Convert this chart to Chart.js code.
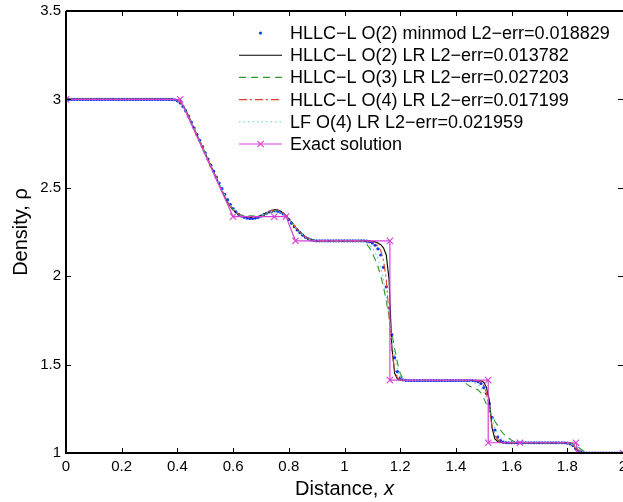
<!DOCTYPE html>
<html>
<head>
<meta charset="utf-8">
<script src="https://cdn.jsdelivr.net/npm/chart.js@4"></script>
<style>
html,body{margin:0;padding:0;background:#fff;}
canvas{display:block;}
</style>
</head>
<body>
<canvas id="c" width="623" height="502"></canvas>
<script>
// ---------------- DATA ----------------
const seriesLabels = [
  "HLLC\u2212L O(2) minmod L2\u2212err=0.018829",
  "HLLC\u2212L O(2) LR L2\u2212err=0.013782",
  "HLLC\u2212L O(3) LR L2\u2212err=0.027203",
  "HLLC\u2212L O(4) LR L2\u2212err=0.017199",
  "LF O(4) LR L2\u2212err=0.021959",
  "Exact solution"
];
const xTickVals = [0,0.2,0.4,0.6,0.8,1,1.2,1.4,1.6,1.8,2];
const xTickLabels = ["0","0.2","0.4","0.6","0.8","1","1.2","1.4","1.6","1.8","2"];
const yTickVals = [1,1.5,2,2.5,3,3.5];
const yTickLabels = ["1","1.5","2","2.5","3","3.5"];

const xGrid = [
0,0.01,0.02,0.03,0.04,0.05,0.06,0.07,0.08,0.09,
0.1,0.11,0.12,0.13,0.14,0.15,0.16,0.17,0.18,0.19,
0.2,0.21,0.22,0.23,0.24,0.25,0.26,0.27,0.28,0.29,
0.3,0.31,0.32,0.33,0.34,0.35,0.36,0.37,0.38,0.39,
0.4,0.41,0.42,0.43,0.44,0.45,0.46,0.47,0.48,0.49,
0.5,0.51,0.52,0.53,0.54,0.55,0.56,0.57,0.58,0.59,
0.6,0.61,0.62,0.63,0.64,0.65,0.66,0.67,0.68,0.69,
0.7,0.71,0.72,0.73,0.74,0.75,0.76,0.77,0.78,0.79,
0.8,0.81,0.82,0.83,0.84,0.85,0.86,0.87,0.88,0.89,
0.9,0.91,0.92,0.93,0.94,0.95,0.96,0.97,0.98,0.99,
1,1.01,1.02,1.03,1.04,1.05,1.06,1.07,1.08,1.09,
1.1,1.11,1.12,1.13,1.14,1.15,1.16,1.17,1.18,1.19,
1.2,1.21,1.22,1.23,1.24,1.25,1.26,1.27,1.28,1.29,
1.3,1.31,1.32,1.33,1.34,1.35,1.36,1.37,1.38,1.39,
1.4,1.41,1.42,1.43,1.44,1.45,1.46,1.47,1.48,1.49,
1.5,1.51,1.52,1.53,1.54,1.55,1.56,1.57,1.58,1.59,
1.6,1.61,1.62,1.63,1.64,1.65,1.66,1.67,1.68,1.69,
1.7,1.71,1.72,1.73,1.74,1.75,1.76,1.77,1.78,1.79,
1.8,1.81,1.82,1.83,1.84,1.85,1.86,1.87,1.88,1.89,
1.9,1.91,1.92,1.93,1.94,1.95,1.96,1.97,1.98,1.99,
2];

const minmodO2 = [
3,3,3,3,3,3,3,3,3,3,
3,3,3,3,3,3,3,3,3,3,
3,3,3,3,3,3,3,3,3,3,
3,3,3,3,3,3,3,3,3,2.998,
2.992,2.98,2.96,2.935,2.905,2.872,2.838,2.803,2.768,2.733,
2.698,2.663,2.628,2.594,2.56,2.527,2.495,2.463,2.433,2.405,
2.382,2.364,2.35,2.34,2.333,2.329,2.327,2.327,2.329,2.333,
2.34,2.348,2.356,2.363,2.368,2.37,2.368,2.362,2.352,2.338,
2.32,2.3,2.28,2.262,2.246,2.232,2.22,2.211,2.205,2.202,
2.2,2.2,2.2,2.2,2.2,2.2,2.2,2.2,2.2,2.2,
2.2,2.2,2.2,2.2,2.2,2.2,2.2,2.2,2.198,2.195,
2.188,2.175,2.155,2.12,2.05,1.94,1.82,1.67,1.54,1.46,
1.425,1.414,1.411,1.41,1.41,1.41,1.41,1.41,1.41,1.41,
1.41,1.41,1.41,1.41,1.41,1.41,1.41,1.41,1.41,1.41,
1.41,1.41,1.41,1.41,1.41,1.41,1.41,1.408,1.403,1.393,
1.37,1.335,1.28,1.2,1.13,1.09,1.07,1.062,1.059,1.058,
1.058,1.058,1.058,1.058,1.058,1.058,1.058,1.058,1.058,1.058,
1.058,1.058,1.058,1.058,1.058,1.058,1.058,1.058,1.058,1.058,
1.056,1.052,1.042,1.026,1.012,1.004,1.001,1,1,1,
1,1,1,1,1,1,1,1,1,1,
1];

const lrO2 = [
3,3,3,3,3,3,3,3,3,3,
3,3,3,3,3,3,3,3,3,3,
3,3,3,3,3,3,3,3,3,3,
3,3,3,3,3,3,3,3,3,2.999,
2.995,2.985,2.965,2.94,2.905,2.87,2.835,2.8,2.765,2.73,
2.695,2.66,2.625,2.59,2.555,2.52,2.485,2.45,2.42,2.395,
2.375,2.36,2.35,2.343,2.338,2.335,2.333,2.333,2.335,2.338,
2.343,2.35,2.358,2.366,2.372,2.375,2.374,2.368,2.357,2.342,
2.325,2.305,2.285,2.265,2.25,2.235,2.222,2.212,2.206,2.203,
2.201,2.2,2.2,2.2,2.2,2.2,2.2,2.2,2.2,2.2,
2.2,2.2,2.2,2.2,2.2,2.2,2.2,2.2,2.2,2.199,
2.197,2.194,2.188,2.178,2.16,2.12,1.98,1.6,1.45,1.418,
1.412,1.41,1.41,1.41,1.41,1.41,1.41,1.41,1.41,1.41,
1.41,1.41,1.41,1.41,1.41,1.41,1.41,1.41,1.41,1.41,
1.41,1.41,1.41,1.41,1.41,1.41,1.41,1.41,1.41,1.408,
1.4,1.37,1.3,1.14,1.08,1.065,1.06,1.058,1.058,1.058,
1.058,1.058,1.058,1.058,1.058,1.058,1.058,1.058,1.058,1.058,
1.058,1.058,1.058,1.058,1.058,1.058,1.058,1.058,1.058,1.058,
1.058,1.056,1.048,1.025,1.006,1.001,1,1,1,1,
1,1,1,1,1,1,1,1,1,1,
1];

const lrO3 = [
3,3,3,3,3,3,3,3,3,3,
3,3,3,3,3,3,3,3,3,3,
3,3,3,3,3,3,3,3,3,3,
3,3,3,3,3,3,3,3,3,2.999,
2.994,2.983,2.963,2.938,2.905,2.87,2.835,2.8,2.765,2.73,
2.695,2.66,2.625,2.59,2.555,2.52,2.486,2.452,2.422,2.397,
2.377,2.362,2.352,2.346,2.343,2.342,2.342,2.341,2.339,2.338,
2.34,2.346,2.354,2.362,2.368,2.371,2.37,2.365,2.355,2.341,
2.324,2.305,2.286,2.267,2.25,2.235,2.222,2.212,2.206,2.203,
2.201,2.2,2.2,2.2,2.2,2.2,2.2,2.2,2.2,2.2,
2.2,2.2,2.2,2.2,2.2,2.2,2.198,2.193,2.18,2.16,
2.13,2.095,2.055,2.005,1.94,1.86,1.77,1.68,1.59,1.51,
1.45,1.42,1.412,1.41,1.41,1.41,1.41,1.41,1.41,1.41,
1.41,1.41,1.41,1.41,1.41,1.41,1.41,1.41,1.41,1.41,
1.41,1.41,1.408,1.4,1.388,1.378,1.37,1.364,1.356,1.34,
1.31,1.275,1.24,1.21,1.18,1.155,1.13,1.11,1.095,1.083,
1.072,1.065,1.061,1.059,1.058,1.058,1.058,1.058,1.058,1.058,
1.058,1.058,1.058,1.058,1.058,1.058,1.058,1.058,1.058,1.058,
1.058,1.056,1.052,1.045,1.033,1.02,1.01,1.004,1.001,1,
1,1,1,1,1,1,1,1,1,1,
1];

const lrO4 = [
3,3,3,3,3,3,3,3,3,3,
3,3,3,3,3,3,3,3,3,3,
3,3,3,3,3,3,3,3,3,3,
3,3,3,3,3,3,3,3,3,2.999,
2.995,2.984,2.964,2.939,2.905,2.87,2.835,2.8,2.765,2.73,
2.695,2.66,2.625,2.59,2.555,2.52,2.486,2.451,2.421,2.396,
2.376,2.361,2.351,2.343,2.338,2.335,2.333,2.333,2.335,2.338,
2.343,2.35,2.358,2.366,2.372,2.375,2.374,2.368,2.357,2.342,
2.325,2.305,2.285,2.265,2.25,2.235,2.222,2.212,2.206,2.203,
2.201,2.2,2.2,2.2,2.2,2.2,2.2,2.2,2.2,2.2,
2.2,2.2,2.2,2.2,2.2,2.2,2.2,2.2,2.2,2.198,
2.195,2.188,2.172,2.145,2.09,1.98,1.78,1.58,1.47,1.425,
1.413,1.41,1.41,1.41,1.41,1.41,1.41,1.41,1.41,1.41,
1.41,1.41,1.41,1.41,1.41,1.41,1.41,1.41,1.41,1.41,
1.41,1.41,1.41,1.41,1.41,1.41,1.41,1.41,1.408,1.4,
1.38,1.34,1.24,1.15,1.1,1.075,1.064,1.06,1.058,1.058,
1.058,1.058,1.058,1.058,1.058,1.058,1.058,1.058,1.058,1.058,
1.058,1.058,1.058,1.058,1.058,1.058,1.058,1.058,1.058,1.058,
1.058,1.055,1.045,1.027,1.01,1.003,1,1,1,1,
1,1,1,1,1,1,1,1,1,1,
1];

const lfO4 = [
3,3,3,3,3,3,3,3,3,3,
3,3,3,3,3,3,3,3,3,3,
3,3,3,3,3,3,3,3,3,3,
3,3,3,3,3,3,3,3,3,2.998,
2.991,2.978,2.958,2.933,2.903,2.87,2.836,2.801,2.766,2.731,
2.696,2.661,2.626,2.592,2.558,2.525,2.492,2.46,2.43,2.403,
2.381,2.364,2.352,2.344,2.339,2.336,2.335,2.335,2.336,2.339,
2.344,2.35,2.357,2.363,2.367,2.369,2.367,2.362,2.352,2.338,
2.322,2.303,2.284,2.265,2.249,2.234,2.222,2.212,2.206,2.203,
2.201,2.2,2.2,2.2,2.2,2.2,2.2,2.2,2.2,2.2,
2.2,2.2,2.2,2.2,2.2,2.2,2.198,2.194,2.187,2.176,
2.16,2.135,2.1,2.05,1.98,1.88,1.77,1.65,1.55,1.47,
1.43,1.415,1.411,1.41,1.41,1.41,1.41,1.41,1.41,1.41,
1.41,1.41,1.41,1.41,1.41,1.41,1.41,1.41,1.41,1.41,
1.41,1.41,1.41,1.41,1.41,1.407,1.402,1.395,1.385,1.37,
1.345,1.31,1.26,1.2,1.14,1.105,1.083,1.07,1.063,1.06,
1.059,1.058,1.058,1.058,1.058,1.058,1.058,1.058,1.058,1.058,
1.058,1.058,1.058,1.058,1.058,1.058,1.058,1.058,1.058,1.058,
1.057,1.054,1.046,1.032,1.018,1.008,1.003,1.001,1,1,
1,1,1,1,1,1,1,1,1,1,
1];

const exactX = [0,0.41,0.6,0.748,0.79,0.824,1.163,1.163,1.516,1.516,1.63,1.831,1.84,2];
const exactY = [3,3,2.337,2.337,2.337,2.2,2.2,1.412,1.412,1.058,1.058,1.058,1.0,1.0];

// ---------------- BUILD ----------------
const pts = (xs, ys) => xs.map((x, i) => ({x: x, y: ys[i]}));
const FONT = '"Liberation Sans", Arial, Helvetica, sans-serif';
const PLOT_LEFT = 66, PLOT_RIGHT = 623, PLOT_TOP = 11, PLOT_BOTTOM = 453;

const styles = [
  {kind:'dots', color:'#1236ff'},
  {kind:'line', color:'#000000', dash:[]},
  {kind:'line', color:'#2b9a2b', dash:[7,5]},
  {kind:'line', color:'#e5402a', dash:[8,3,2,3]},
  {kind:'line', color:'#62d2d2', dash:[1.5,3]},
  {kind:'exact', color:'#d642d6'}
];

const datasets = [
  {label: seriesLabels[0], data: pts(xGrid, minmodO2), showLine:false, pointRadius:1.6, pointHoverRadius:1.6,
   pointBackgroundColor: styles[0].color, pointBorderWidth:0, order:5},
  {label: seriesLabels[1], data: pts(xGrid, lrO2), showLine:true, borderColor: styles[1].color, borderWidth:1.1,
   pointRadius:0, order:4},
  {label: seriesLabels[2], data: pts(xGrid, lrO3), showLine:true, borderColor: styles[2].color, borderWidth:1.1,
   borderDash: styles[2].dash, pointRadius:0, order:3},
  {label: seriesLabels[3], data: pts(xGrid, lrO4), showLine:true, borderColor: styles[3].color, borderWidth:1.1,
   borderDash: styles[3].dash, pointRadius:0, order:2},
  {label: seriesLabels[4], data: pts(xGrid, lfO4), showLine:true, borderColor: styles[4].color, borderWidth:1.1,
   borderDash: styles[4].dash, pointRadius:0, order:1},
  {label: seriesLabels[5], data: pts(exactX, exactY), showLine:true, borderColor: styles[5].color, borderWidth:1.2,
   pointStyle:'crossRot', pointRadius:4.5, pointBorderColor: styles[5].color, pointBorderWidth:1.1,
   pointBackgroundColor: styles[5].color, order:0}
];

function drawCross(ctx, x, y, r, color) {
  ctx.save();
  ctx.strokeStyle = color; ctx.lineWidth = 1.1;
  ctx.beginPath();
  ctx.moveTo(x - r, y - r); ctx.lineTo(x + r, y + r);
  ctx.moveTo(x - r, y + r); ctx.lineTo(x + r, y - r);
  ctx.stroke();
  ctx.restore();
}

const matlabPlugin = {
  id: 'matlabBox',
  afterLayout(chart) {
    // fix the plot box to the reference geometry (clipped at the right edge)
    const xs = chart.scales.x, ys = chart.scales.y, a = chart.chartArea;
    xs.left = PLOT_LEFT; xs.right = PLOT_RIGHT; xs.width = PLOT_RIGHT - PLOT_LEFT;
    xs.top = PLOT_BOTTOM; xs.bottom = PLOT_BOTTOM + 49; xs.height = 49;
    xs.configure();
    ys.top = PLOT_TOP; ys.bottom = PLOT_BOTTOM; ys.height = PLOT_BOTTOM - PLOT_TOP;
    ys.left = 0; ys.right = PLOT_LEFT; ys.width = PLOT_LEFT;
    ys.configure();
    a.left = PLOT_LEFT; a.right = PLOT_RIGHT; a.top = PLOT_TOP; a.bottom = PLOT_BOTTOM;
    a.width = PLOT_RIGHT - PLOT_LEFT; a.height = PLOT_BOTTOM - PLOT_TOP;
  },
  afterDraw(chart) {
    const ctx = chart.ctx, a = chart.chartArea, xs = chart.scales.x, ys = chart.scales.y;
    ctx.save();
    // inward ticks
    ctx.strokeStyle = '#000';
    ctx.lineWidth = 1;
    ctx.beginPath();
    xTickVals.forEach(v => {
      const px = Math.round(xs.getPixelForValue(v)) + 0.5;
      ctx.moveTo(px, a.bottom); ctx.lineTo(px, a.bottom - 5);
      ctx.moveTo(px, a.top); ctx.lineTo(px, a.top + 5);
    });
    yTickVals.forEach(v => {
      const py = Math.round(ys.getPixelForValue(v)) + 0.5;
      ctx.moveTo(a.left, py); ctx.lineTo(a.left + 5, py);
      ctx.moveTo(a.right, py); ctx.lineTo(a.right - 5, py);
    });
    ctx.stroke();
    // box
    ctx.lineWidth = 2;
    ctx.beginPath();
    ctx.moveTo(a.left, a.top); ctx.lineTo(a.left, a.bottom); ctx.lineTo(a.right + 2, a.bottom);
    ctx.moveTo(a.left, a.top); ctx.lineTo(a.right + 2, a.top);
    ctx.stroke();

    // axis titles
    ctx.fillStyle = '#000';
    ctx.textBaseline = 'middle';
    const t1 = 'Distance, ', t2 = 'x';
    ctx.font = '20px ' + FONT;
    const w1 = ctx.measureText(t1).width;
    ctx.font = 'italic 20px ' + FONT;
    const w2 = ctx.measureText(t2).width;
    const cx = (a.left + a.right) / 2;
    let sx = cx - (w1 + w2) / 2;
    ctx.textAlign = 'left';
    ctx.font = '20px ' + FONT;
    ctx.fillText(t1, sx, 489);
    ctx.font = 'italic 20px ' + FONT;
    ctx.fillText(t2, sx + w1, 489);

    ctx.save();
    ctx.translate(21, (a.top + a.bottom) / 2);
    ctx.rotate(-Math.PI / 2);
    ctx.textAlign = 'center';
    ctx.font = '20px ' + FONT;
    ctx.fillText('Density, \u03C1', 0, 0);
    ctx.restore();

    // legend
    const lx0 = 239, lx1 = 282, tx = 290, ry0 = 33, rstep = 22.2;
    ctx.font = '18px ' + FONT;
    ctx.textAlign = 'left';
    ctx.textBaseline = 'middle';
    seriesLabels.forEach((lab, i) => {
      const yy = ry0 + i * rstep;
      const st = styles[i];
      const mid = (lx0 + lx1) / 2;
      if (st.kind === 'dots') {
        ctx.fillStyle = st.color;
        ctx.beginPath(); ctx.arc(mid, yy, 1.6, 0, Math.PI * 2); ctx.fill();
      } else {
        ctx.strokeStyle = st.color;
        ctx.lineWidth = 1.1;
        ctx.setLineDash(st.dash || []);
        ctx.beginPath(); ctx.moveTo(lx0, yy); ctx.lineTo(lx1, yy); ctx.stroke();
        ctx.setLineDash([]);
        if (st.kind === 'exact') drawCross(ctx, mid, yy, 3.2, st.color);
      }
      ctx.fillStyle = '#000';
      ctx.fillText(lab, tx, yy + 1);
    });
    ctx.restore();
  }
};

new Chart(document.getElementById('c'), {
  type: 'scatter',
  data: { datasets: datasets },
  options: {
    responsive: false,
    animation: false,
    events: [],
    layout: { padding: { top: 11, right: 0, left: 0, bottom: 0 } },
    plugins: { legend: { display: false }, tooltip: { enabled: false } },
    scales: {
      x: {
        type: 'linear', min: 0, max: 2,
        grid: { display: false, drawTicks: false },
        border: { display: false },
        afterBuildTicks: s => { s.ticks = xTickVals.map(v => ({ value: v })); },
        ticks: {
          font: { family: FONT, size: 15 }, color: '#000', padding: 5,
          maxRotation: 0, autoSkip: false,
          callback: (v, i) => xTickLabels[i]
        },
        afterFit: s => { s.height = 49; }
      },
      y: {
        type: 'linear', min: 1, max: 3.5,
        grid: { display: false, drawTicks: false },
        border: { display: false },
        afterBuildTicks: s => { s.ticks = yTickVals.map(v => ({ value: v })); },
        ticks: {
          font: { family: FONT, size: 15 }, color: '#000', padding: 5,
          autoSkip: false,
          callback: (v, i) => yTickLabels[i]
        },
        afterFit: s => { s.width = 66; }
      }
    }
  },
  plugins: [matlabPlugin]
});
</script>
</body>
</html>
